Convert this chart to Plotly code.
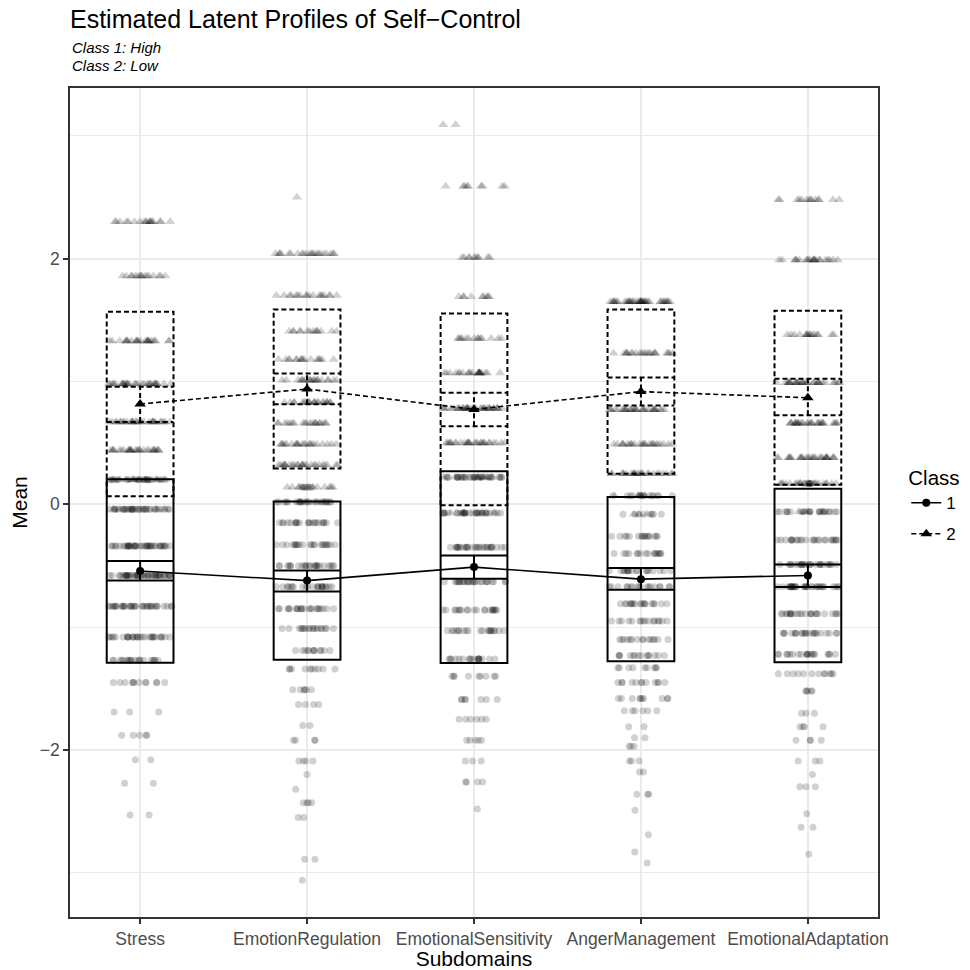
import numpy as np
import plotly.graph_objects as go

# subdomains on the x axis
subdomains = ["Stress", "EmotionRegulation", "EmotionalSensitivity",
              "AngerManagement", "EmotionalAdaptation"]

# estimated profile means, sds and CI bounds (class 1 = High, class 2 = Low)
mean_c1 = [-0.543, -0.621, -0.511, -0.609, -0.579]
sd_c1 = [0.747, 0.645, 0.780, 0.668, 0.706]
ci_lo_c1 = [-0.620, -0.709, -0.606, -0.696, -0.674]
ci_hi_c1 = [-0.462, -0.538, -0.416, -0.519, -0.489]

mean_c2 = [0.817, 0.939, 0.773, 0.918, 0.868]
sd_c2 = [0.752, 0.648, 0.781, 0.668, 0.708]
ci_lo_c2 = [0.671, 0.815, 0.636, 0.804, 0.726]
ci_hi_c2 = [0.957, 1.065, 0.908, 1.033, 1.022]

# raw standardized scores: distinct values and how many cases sit at each
stress_c2_levels = [2.30, 1.86, 1.33, 0.98, 0.67, 0.44, 0.20, -0.04]
stress_c2_counts = [18, 16, 24, 30, 30, 28, 12, 4]
stress_c1_levels = [0.20, -0.04, -0.34, -0.58, -0.83, -1.08, -1.27, -1.45, -1.69,
                    -1.88, -2.08, -2.27, -2.53]
stress_c1_counts = [20, 35, 40, 45, 35, 30, 20, 12, 3, 5, 2, 2, 2]

er_c2_levels = [2.50, 2.04, 1.70, 1.41, 1.18, 1.01, 0.83, 0.66, 0.49, 0.32, 0.14, 0.02]
er_c2_counts = [1, 22, 18, 14, 16, 20, 22, 20, 22, 25, 12, 4]
er_c1_levels = [0.14, 0.02, -0.15, -0.33, -0.50, -0.67, -0.85, -1.01, -1.19, -1.34,
                -1.51, -1.63, -1.80, -1.92, -2.09, -2.20, -2.32, -2.43, -2.55, -2.89, -3.06]
er_c1_counts = [6, 22, 22, 22, 24, 22, 22, 18, 12, 10, 6, 4, 2, 4, 4, 1, 1, 4, 2, 2, 1]

es_c2_levels = [3.09, 2.59, 2.01, 1.69, 1.35, 1.07, 0.78, 0.50, 0.22, -0.07]
es_c2_counts = [2, 9, 10, 9, 14, 22, 35, 28, 8, 4]
es_c1_levels = [0.22, -0.07, -0.35, -0.63, -0.86, -1.03, -1.26, -1.40, -1.59, -1.75,
                -1.92, -2.09, -2.26, -2.48]
es_c1_counts = [30, 30, 28, 26, 20, 20, 18, 9, 7, 6, 5, 3, 4, 1]

am_c2_levels = [1.65, 1.23, 0.77, 0.49, 0.25, 0.07, -0.08]
am_c2_counts = [40, 22, 30, 25, 25, 6, 3]
am_c1_levels = [0.07, -0.08, -0.26, -0.40, -0.54, -0.67, -0.81, -0.95, -1.10, -1.23,
                -1.33, -1.45, -1.58, -1.68, -1.81, -1.90, -1.97, -2.09, -2.18, -2.36,
                -2.49, -2.69, -2.83, -2.92]
am_c1_counts = [14, 8, 16, 16, 18, 18, 18, 16, 15, 14, 9, 12, 10, 6, 2, 2, 3, 3, 2, 3,
                1, 1, 1, 1]

ea_c2_levels = [2.48, 1.99, 1.38, 0.99, 0.66, 0.38, 0.17, -0.06]
ea_c2_counts = [14, 22, 16, 30, 28, 28, 22, 4]
ea_c1_levels = [0.17, -0.06, -0.29, -0.49, -0.67, -0.89, -1.05, -1.22, -1.38, -1.52,
                -1.70, -1.81, -1.92, -2.09, -2.20, -2.30, -2.52, -2.63, -2.85]
ea_c1_counts = [6, 22, 25, 25, 32, 24, 22, 20, 12, 5, 3, 4, 4, 3, 1, 3, 1, 2, 1]

c1_levels = [stress_c1_levels, er_c1_levels, es_c1_levels, am_c1_levels, ea_c1_levels]
c1_counts = [stress_c1_counts, er_c1_counts, es_c1_counts, am_c1_counts, ea_c1_counts]
c2_levels = [stress_c2_levels, er_c2_levels, es_c2_levels, am_c2_levels, ea_c2_levels]
c2_counts = [stress_c2_counts, er_c2_counts, es_c2_counts, am_c2_counts, ea_c2_counts]

SPARSE = 6  # rows with this many cases or fewer get their own jitter group


def expand(levels, counts, sparse):
    xs, ys = [], []
    for i, (lv, ct) in enumerate(zip(levels, counts)):
        for v, n in zip(lv, ct):
            if (n <= SPARSE) == sparse:
                ys.extend([v] * n)
                xs.extend([i] * n)
    return xs, ys


pos = list(range(len(subdomains)))
half = 0.2  # half width of the sd boxes / errorbar caps
dash = "5px,3px"

W = H = 970

fig = go.Figure()

# jittered raw data (plotly's own box-point jitter, box itself hidden)
for levels, counts, sym, msize in [(c1_levels, c1_counts, "circle", 7),
                                   (c2_levels, c2_counts, "triangle-up", 9)]:
    for sparse in (False, True):
        xs, ys = expand(levels, counts, sparse)
        fig.add_trace(go.Box(
            x=xs, y=ys, boxpoints="all", jitter=1, pointpos=0, width=0.38,
            fillcolor="rgba(0,0,0,0)", line=dict(width=0, color="rgba(0,0,0,0)"),
            whiskerwidth=0,
            marker=dict(symbol=sym, size=msize, color="black", opacity=0.18,
                        line=dict(width=0)),
            showlegend=False, hoverinfo="skip"))

# mean profile lines
fig.add_trace(go.Scatter(
    x=pos, y=mean_c1, mode="lines+markers", name="1", legendgroup="1",
    line=dict(color="black", width=1.6),
    marker=dict(symbol="circle", size=8, color="black")))
fig.add_trace(go.Scatter(
    x=pos, y=mean_c2, mode="lines+markers", name="2", legendgroup="2",
    line=dict(color="black", width=1.6, dash=dash),
    marker=dict(symbol="triangle-up", size=10, color="black")))

# mean +/- sd boxes and CI errorbars
shapes = []
for mean, sd, lo, hi, d in [(mean_c1, sd_c1, ci_lo_c1, ci_hi_c1, "solid"),
                            (mean_c2, sd_c2, ci_lo_c2, ci_hi_c2, dash)]:
    ln = dict(color="black", width=2, dash=d)
    for i in pos:
        shapes.append(dict(type="rect", xref="x", yref="y",
                           x0=i - half, x1=i + half,
                           y0=mean[i] - sd[i], y1=mean[i] + sd[i],
                           line=ln, fillcolor="rgba(0,0,0,0)", layer="above"))
        shapes.append(dict(type="line", xref="x", yref="y", x0=i, x1=i,
                           y0=lo[i], y1=hi[i], line=ln, layer="above"))
        for yv in (lo[i], hi[i]):
            shapes.append(dict(type="line", xref="x", yref="y",
                               x0=i - half, x1=i + half, y0=yv, y1=yv,
                               line=ln, layer="above"))

fig.update_layout(
    width=W, height=H,
    margin=dict(l=70, r=92, t=88, b=53, autoexpand=False),
    plot_bgcolor="white", paper_bgcolor="white",
    font=dict(family="Liberation Sans, Arial, sans-serif", color="black"),
    title=dict(text="Estimated Latent Profiles of Self\u2212Control",
               xref="paper", x=0, xanchor="left",
               yref="container", y=1 - 19 / H, yanchor="middle",
               font=dict(size=25, color="black")),
    shapes=shapes,
    showlegend=True,
    legend=dict(title=dict(text="Class", font=dict(size=20.5)),
                font=dict(size=17), x=1.035, xanchor="left",
                y=0.497, yanchor="middle", bgcolor="rgba(0,0,0,0)",
                tracegroupgap=6, itemwidth=30),
    boxmode="overlay",
    annotations=[
        dict(text="<i>Class 1: High</i>", xref="paper", yref="paper",
             x=0, y=(917 - 48) / 829, xanchor="left", yanchor="middle",
             showarrow=False, font=dict(size=15)),
        dict(text="<i>Class 2: Low</i>", xref="paper", yref="paper",
             x=0, y=(917 - 65) / 829, xanchor="left", yanchor="middle",
             showarrow=False, font=dict(size=15)),
    ],
)

axis_common = dict(showline=True, mirror=True, linecolor="#333333", linewidth=1.5,
                   ticks="outside", ticklen=5, tickwidth=1.5, tickcolor="#333333",
                   tickfont=dict(size=17.5, color="#4d4d4d"), automargin=False,
                   showgrid=True, gridcolor="#ebebeb", gridwidth=1.5, zeroline=False)

fig.update_xaxes(range=[-0.42, 4.42], tickmode="array", tickvals=pos,
                 ticktext=subdomains,
                 title=dict(text="Subdomains", font=dict(size=21), standoff=2),
                 **axis_common)
fig.update_yaxes(range=[-3.36, 3.39], tick0=0, dtick=2,
                 minor=dict(dtick=1, tick0=0, showgrid=True,
                            gridcolor="#ebebeb", gridwidth=0.8),
                 title=dict(text="Mean", font=dict(size=21), standoff=6),
                 **axis_common)

# drop the browser's default 8px body margin so the figure fills the window
fig.write_html("out.html", config={"displayModeBar": False},
               post_script="document.body.style.margin = '0';")
